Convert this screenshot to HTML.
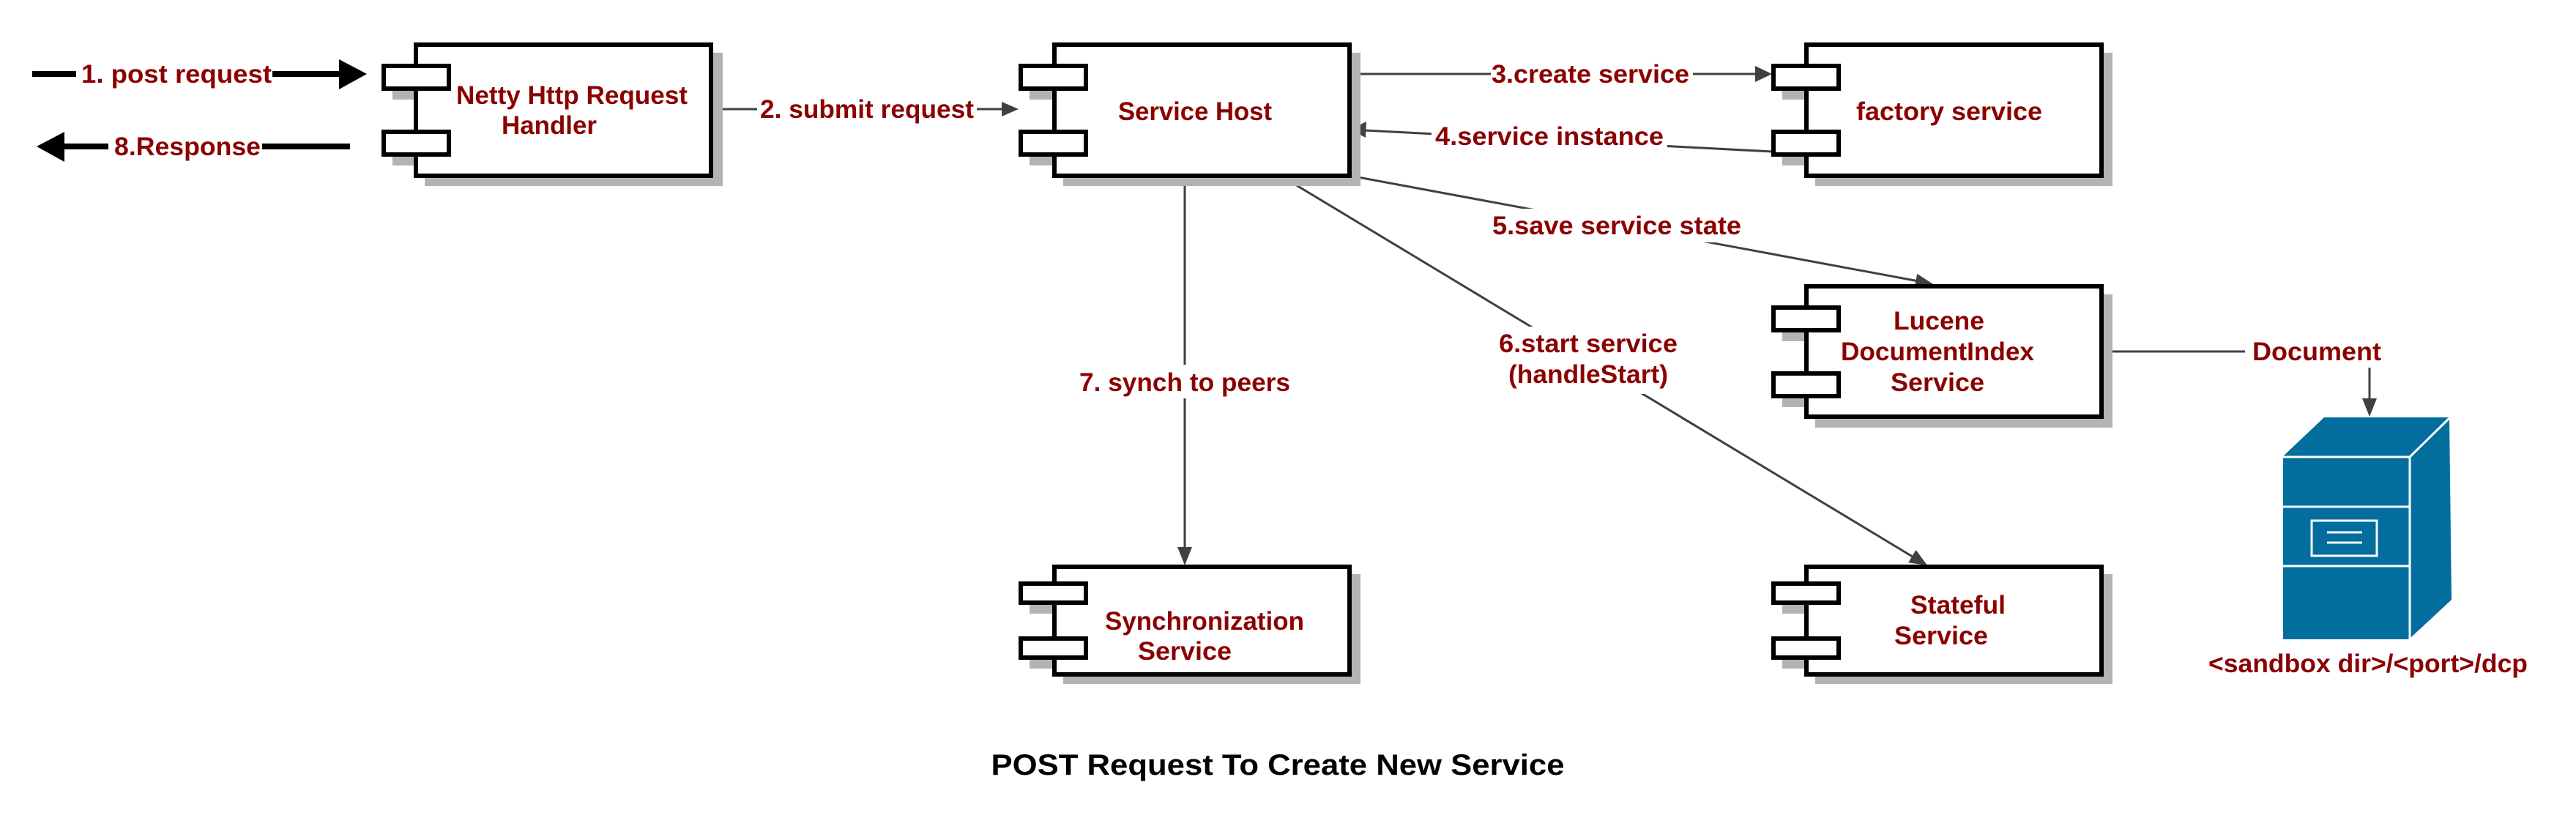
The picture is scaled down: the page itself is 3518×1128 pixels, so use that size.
<!DOCTYPE html>
<html><head><meta charset="utf-8"><style>
html,body{margin:0;padding:0;background:#fff;}
svg{display:block;}
text{font-family:"Liberation Sans",Arial,sans-serif;font-weight:bold;}
.l{fill:#8b0000;font-size:35px;}
</style></head><body>
<svg width="3518" height="1128" viewBox="0 0 3518 1128" xmlns="http://www.w3.org/2000/svg">
<rect width="3518" height="1128" fill="#fff"/>

<!-- connectors -->
<g stroke="#404040" stroke-width="3" fill="none">
<line x1="973" y1="149" x2="1370" y2="149"/>
<line x1="1844" y1="101" x2="2400" y2="101"/>
<line x1="2420" y1="207" x2="1864" y2="178"/>
<line x1="1844" y1="240" x2="2620" y2="384"/>
<line x1="1749" y1="240" x2="2615" y2="762"/>
<line x1="1618" y1="242" x2="1618" y2="750"/>
<line x1="2872" y1="480" x2="3236" y2="480"/>
<line x1="3236" y1="480" x2="3236" y2="548"/>
</g>
<g fill="#404040">
<polygon points="1391,149 1368,139 1368,159"/>
<polygon points="2420,101 2397,90 2397,112"/>
<polygon points="1844,177 1866,166 1865,188"/>
<polygon points="2640,388 2614.6,393.5 2618.2,373.9"/>
<polygon points="2632,772 2606.2,768.2 2616.6,751"/>
<polygon points="1618,772 1608,747 1628,747"/>
<polygon points="3236,569 3226,544 3246,544"/>
</g>

<!-- thick black external arrows -->
<g stroke="#000" stroke-width="8">
<line x1="44" y1="101" x2="470" y2="101"/>
<line x1="85" y1="200" x2="478" y2="200"/>
</g>
<polygon points="501,101 463,81 463,122" fill="#000"/>
<polygon points="50,200 88,180 88,221" fill="#000"/>

<!-- label backgrounds -->
<g fill="#fff">
<rect x="104" y="78" width="268" height="46"/>
<rect x="148" y="178" width="210" height="46"/>
<rect x="1034" y="126" width="300" height="46"/>
<rect x="2036" y="78" width="276" height="46"/>
<rect x="1955" y="163" width="322" height="46"/>
<rect x="2023" y="285" width="372" height="46"/>
<rect x="2016" y="446" width="310" height="92"/>
<rect x="1484" y="498" width="268" height="46"/>
<rect x="3066" y="456" width="196" height="46"/>
</g>

<!-- labels -->
<g class="l">
<text x="241" y="113" text-anchor="middle" textLength="260" lengthAdjust="spacingAndGlyphs">1. post request</text>
<text x="256" y="212" text-anchor="middle" textLength="200" lengthAdjust="spacingAndGlyphs">8.Response</text>
<text x="1184" y="161" text-anchor="middle" textLength="292" lengthAdjust="spacingAndGlyphs">2. submit request</text>
<text x="2172" y="113" text-anchor="middle" textLength="270" lengthAdjust="spacingAndGlyphs">3.create service</text>
<text x="2116" y="198" text-anchor="middle" textLength="312" lengthAdjust="spacingAndGlyphs">4.service instance</text>
<text x="2208" y="320" text-anchor="middle" textLength="340" lengthAdjust="spacingAndGlyphs">5.save service state</text>
<text x="2169" y="481" text-anchor="middle" textLength="244" lengthAdjust="spacingAndGlyphs">6.start service</text>
<text x="2169" y="523" text-anchor="middle" textLength="218" lengthAdjust="spacingAndGlyphs">(handleStart)</text>
<text x="1618" y="534" text-anchor="middle" textLength="288" lengthAdjust="spacingAndGlyphs">7. synch to peers</text>
<text x="3164" y="492" text-anchor="middle" textLength="176" lengthAdjust="spacingAndGlyphs">Document</text>
<text x="3234" y="918" text-anchor="middle" textLength="436" lengthAdjust="spacingAndGlyphs">&lt;sandbox dir&gt;/&lt;port&gt;/dcp</text>
</g>

<!-- Netty -->
<g>
<rect x="580" y="72" width="407" height="182" fill="#b3b3b3"/>
<rect x="536" y="102" width="60" height="34" fill="#b3b3b3"/>
<rect x="536" y="192" width="60" height="34" fill="#b3b3b3"/>
<rect x="568" y="61" width="403" height="179" fill="#fff" stroke="#000" stroke-width="6"/>
<rect x="524" y="90" width="89" height="31" fill="#fff" stroke="#000" stroke-width="6"/>
<rect x="524" y="180" width="89" height="31" fill="#fff" stroke="#000" stroke-width="6"/>
<text class="l" x="781" y="142" text-anchor="middle" textLength="316" lengthAdjust="spacingAndGlyphs">Netty Http Request</text>
<text class="l" x="750" y="183" text-anchor="middle" textLength="130" lengthAdjust="spacingAndGlyphs">Handler</text>
</g>
<!-- Service Host -->
<g>
<rect x="1452" y="72" width="406" height="182" fill="#b3b3b3"/>
<rect x="1406" y="102" width="50" height="34" fill="#b3b3b3"/>
<rect x="1406" y="192" width="50" height="34" fill="#b3b3b3"/>
<rect x="1440" y="61" width="403" height="179" fill="#fff" stroke="#000" stroke-width="6"/>
<rect x="1394" y="90" width="89" height="31" fill="#fff" stroke="#000" stroke-width="6"/>
<rect x="1394" y="180" width="89" height="31" fill="#fff" stroke="#000" stroke-width="6"/>
<text class="l" x="1632" y="164" text-anchor="middle" textLength="210" lengthAdjust="spacingAndGlyphs">Service Host</text>
</g>
<!-- factory -->
<g>
<rect x="2479" y="72" width="406" height="182" fill="#b3b3b3"/>
<rect x="2434" y="102" width="50" height="34" fill="#b3b3b3"/>
<rect x="2434" y="192" width="50" height="34" fill="#b3b3b3"/>
<rect x="2467" y="61" width="403" height="179" fill="#fff" stroke="#000" stroke-width="6"/>
<rect x="2422" y="90" width="89" height="31" fill="#fff" stroke="#000" stroke-width="6"/>
<rect x="2422" y="180" width="89" height="31" fill="#fff" stroke="#000" stroke-width="6"/>
<text class="l" x="2662" y="164" text-anchor="middle" textLength="254" lengthAdjust="spacingAndGlyphs">factory service</text>
</g>
<!-- Lucene -->
<g>
<rect x="2479" y="402" width="406" height="182" fill="#b3b3b3"/>
<rect x="2434" y="432" width="50" height="34" fill="#b3b3b3"/>
<rect x="2434" y="522" width="50" height="34" fill="#b3b3b3"/>
<rect x="2467" y="391" width="403" height="178" fill="#fff" stroke="#000" stroke-width="6"/>
<rect x="2422" y="420" width="89" height="31" fill="#fff" stroke="#000" stroke-width="6"/>
<rect x="2422" y="510" width="89" height="31" fill="#fff" stroke="#000" stroke-width="6"/>
<text class="l" x="2648" y="450" text-anchor="middle" textLength="124" lengthAdjust="spacingAndGlyphs">Lucene</text>
<text class="l" x="2646" y="492" text-anchor="middle" textLength="264" lengthAdjust="spacingAndGlyphs">DocumentIndex</text>
<text class="l" x="2646" y="534" text-anchor="middle" textLength="128" lengthAdjust="spacingAndGlyphs">Service</text>
</g>
<!-- Synchronization -->
<g>
<rect x="1452" y="784" width="406" height="150" fill="#b3b3b3"/>
<rect x="1406" y="808" width="50" height="30" fill="#b3b3b3"/>
<rect x="1406" y="883" width="50" height="30" fill="#b3b3b3"/>
<rect x="1440" y="774" width="403" height="147" fill="#fff" stroke="#000" stroke-width="6"/>
<rect x="1394" y="797" width="89" height="26" fill="#fff" stroke="#000" stroke-width="6"/>
<rect x="1394" y="872" width="89" height="26" fill="#fff" stroke="#000" stroke-width="6"/>
<text class="l" x="1645" y="860" text-anchor="middle" textLength="272" lengthAdjust="spacingAndGlyphs">Synchronization</text>
<text class="l" x="1618" y="901" text-anchor="middle" textLength="128" lengthAdjust="spacingAndGlyphs">Service</text>
</g>
<!-- Stateful -->
<g>
<rect x="2479" y="784" width="406" height="150" fill="#b3b3b3"/>
<rect x="2434" y="808" width="50" height="30" fill="#b3b3b3"/>
<rect x="2434" y="883" width="50" height="30" fill="#b3b3b3"/>
<rect x="2467" y="774" width="403" height="147" fill="#fff" stroke="#000" stroke-width="6"/>
<rect x="2422" y="797" width="89" height="26" fill="#fff" stroke="#000" stroke-width="6"/>
<rect x="2422" y="872" width="89" height="26" fill="#fff" stroke="#000" stroke-width="6"/>
<text class="l" x="2674" y="838" text-anchor="middle" textLength="130" lengthAdjust="spacingAndGlyphs">Stateful</text>
<text class="l" x="2651" y="880" text-anchor="middle" textLength="128" lengthAdjust="spacingAndGlyphs">Service</text>
</g>

<!-- server -->
<g>
<polygon points="3174,570 3345,570 3292,623 3118,623" fill="#036e9e"/>
<polygon points="3292,623 3345,570 3348,819 3292,871" fill="#036e9e"/>
<rect x="3118" y="623" width="172" height="250" fill="#036e9e"/>
<g stroke="#fff" stroke-width="3" fill="none">
<line x1="3118" y1="624" x2="3291" y2="624"/>
<line x1="3291" y1="624" x2="3345" y2="571"/>
<line x1="3291" y1="624" x2="3291" y2="873"/>
<line x1="3118" y1="692" x2="3290" y2="692"/>
<line x1="3118" y1="773" x2="3290" y2="773"/>
<rect x="3157" y="711" width="89" height="48"/>
<line x1="3178" y1="727" x2="3226" y2="727"/>
<line x1="3178" y1="741" x2="3226" y2="741"/>
</g>
</g>

<text x="1745" y="1058" text-anchor="middle" font-size="40" fill="#000" textLength="783" lengthAdjust="spacingAndGlyphs">POST Request To Create New Service</text>
</svg>
</body></html>
